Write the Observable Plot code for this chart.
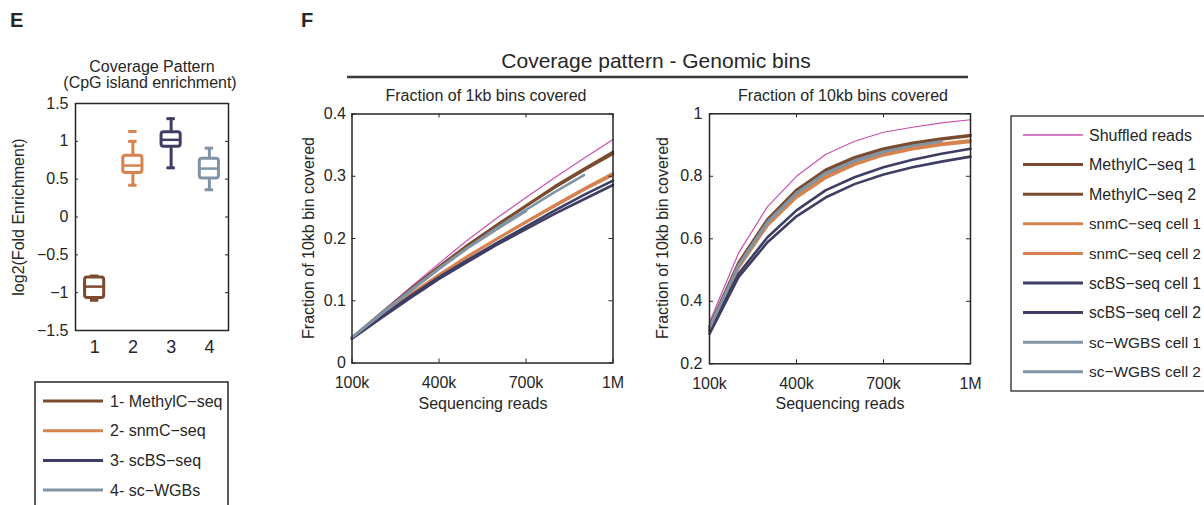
<!DOCTYPE html>
<html>
<head>
<meta charset="utf-8">
<script src="https://cdn.jsdelivr.net/npm/d3@7"></script>
<script src="https://cdn.jsdelivr.net/npm/@observablehq/plot@0.6"></script>
<style>
  html, body { margin: 0; padding: 0; background: #fff; }
  #fig { position: relative; width: 1204px; height: 505px; overflow: hidden; background: #fff;
         font-family: "Liberation Sans", Arial, Helvetica, sans-serif; }
  #fig > svg { position: absolute; overflow: visible; }
</style>
</head>
<body>
<div id="fig"></div>
<script>
// ---------- Panel E: CpG island enrichment per protocol ----------
const protocols = [1, 2, 3, 4];
const protocolNames = ["MethylC−seq", "snmC−seq", "scBS−seq", "sc−WGBs"];
const protocolColors = ["#7a4b2e", "#d6834f", "#3e3e64", "#8094a6"];
const whiskerLow  = [-1.10, 0.42, 0.65, 0.36];
const quartile1   = [-1.07, 0.58, 0.93, 0.51];
const medianValue = [-0.92, 0.68, 1.02, 0.64];
const quartile3   = [-0.80, 0.81, 1.12, 0.77];
const whiskerHigh = [-0.78, 1.00, 1.30, 0.91];
const outlierProtocol = [2];
const outlierValue = [1.13];
const enrichTicks = [-1.5, -1, -0.5, 0, 0.5, 1, 1.5];
const enrichTickLabels = ["−1.5", "−1", "−0.5", "0", "0.5", "1", "1.5"];

// ---------- Panel F: genomic bin coverage vs. sequencing depth ----------
const reads = [100000, 200000, 300000, 400000, 500000, 600000, 700000, 800000, 900000, 1000000];
const readTicks = [100000, 400000, 700000, 1000000];
const readTickLabels = ["100k", "400k", "700k", "1M"];

const seriesNames = ["Shuffled reads", "MethylC−seq 1", "MethylC−seq 2", "snmC−seq cell 1", "snmC−seq cell 2",
                     "scBS−seq cell 1", "scBS−seq cell 2", "sc−WGBS cell 1", "sc−WGBS cell 2"];
const seriesColors = ["#c850b4", "#7a4b2e", "#7a4b2e", "#d6834f", "#d6834f",
                      "#3e3e64", "#3e3e64", "#8094a6", "#8094a6"];

// fraction of 1kb bins covered
const shuffled1kb = [0.040, 0.081, 0.121, 0.160, 0.198, 0.233, 0.266, 0.298, 0.329, 0.359];
const methylc1_1kb = [0.041, 0.080, 0.118, 0.155, 0.190, 0.222, 0.253, 0.284, 0.312, 0.339];
const methylc2_1kb = [0.040, 0.079, 0.117, 0.154, 0.189, 0.221, 0.252, 0.282, 0.310, 0.336];
const snmc1_1kb = [0.040, 0.076, 0.110, 0.142, 0.172, 0.200, 0.227, 0.254, 0.280, 0.305];
const snmc2_1kb = [0.040, 0.075, 0.109, 0.141, 0.171, 0.199, 0.226, 0.252, 0.278, 0.302];
const scbs1_1kb = [0.040, 0.074, 0.107, 0.138, 0.166, 0.193, 0.219, 0.245, 0.270, 0.293];
const scbs2_1kb = [0.039, 0.072, 0.104, 0.135, 0.163, 0.190, 0.215, 0.240, 0.263, 0.286];
const scwgbs1_1kb = [0.041, 0.079, 0.116, 0.152, 0.186, 0.217, 0.246, 0.275, 0.302];
const scwgbs2_1kb = [0.041, 0.078, 0.115, 0.151, 0.185, 0.215, 0.244];

// fraction of 10kb bins covered
const shuffled10kb = [0.333, 0.554, 0.703, 0.800, 0.870, 0.912, 0.941, 0.957, 0.971, 0.981];
const methylc1_10kb = [0.320, 0.524, 0.663, 0.757, 0.821, 0.861, 0.889, 0.907, 0.921, 0.932];
const methylc2_10kb = [0.317, 0.519, 0.658, 0.752, 0.816, 0.857, 0.885, 0.904, 0.918, 0.929];
const snmc1_10kb = [0.312, 0.511, 0.648, 0.738, 0.800, 0.843, 0.872, 0.892, 0.905, 0.915];
const snmc2_10kb = [0.308, 0.506, 0.642, 0.732, 0.794, 0.837, 0.867, 0.887, 0.900, 0.910];
const scbs1_10kb = [0.305, 0.488, 0.605, 0.691, 0.755, 0.797, 0.829, 0.853, 0.872, 0.888];
const scbs2_10kb = [0.296, 0.477, 0.589, 0.672, 0.732, 0.775, 0.806, 0.829, 0.847, 0.863];
const scwgbs1_10kb = [0.316, 0.516, 0.655, 0.747, 0.811, 0.851, 0.879, 0.898, 0.912];
const scwgbs2_10kb = [0.314, 0.513, 0.652, 0.744, 0.808, 0.848, 0.876];

const bins1kbTicks = [0, 0.1, 0.2, 0.3, 0.4];
const bins1kbTickLabels = ["0", "0.1", "0.2", "0.3", "0.4"];
const bins10kbTicks = [0.2, 0.4, 0.6, 0.8, 1];
const bins10kbTickLabels = ["0.2", "0.4", "0.6", "0.8", "1"];

const FONT = '"Liberation Sans", Arial, Helvetica, sans-serif';
const INK = "#262626";
const PAGE_W = 1204;
const fig = document.getElementById("fig");

function place(svg, left, top) {
  svg.style.position = "absolute";
  svg.style.left = left + "px";
  svg.style.top = top + "px";
  svg.style.overflow = "visible";
  fig.appendChild(svg);
}

// inward tick marks on all four sides of a framed plot
function innerTicks(xTicks, yTicks, innerW, innerH, len) {
  const o = {stroke: INK, strokeWidth: 1};
  const marks = [];
  if (xTicks) marks.push(
    Plot.tickX(xTicks, {x: d => d, insetTop: innerH - len, ...o}),
    Plot.tickX(xTicks, {x: d => d, insetBottom: innerH - len, ...o}));
  if (yTicks) marks.push(
    Plot.tickY(yTicks, {y: d => d, insetRight: innerW - len, ...o}),
    Plot.tickY(yTicks, {y: d => d, insetLeft: innerW - len, ...o}));
  return marks;
}

// ---------- box plot ----------
const boxes = protocols.map((p, i) => ({
  p, lo: whiskerLow[i], q1: quartile1[i], med: medianValue[i], q3: quartile3[i], hi: whiskerHigh[i],
  color: protocolColors[i]
}));
const outliers = outlierProtocol.map((p, i) => ({p, v: outlierValue[i], color: protocolColors[p - 1]}));
const half = 0.25, cap = 0.11;
{
  const W = 240, H = 270, mL = 75, mR = 12, mT = 13, mB = 30;
  const boxPlot = Plot.plot({
    width: W, height: H, marginLeft: mL, marginRight: mR, marginTop: mT, marginBottom: mB,
    style: {fontFamily: FONT, fontSize: "16px", color: INK, background: "transparent"},
    x: {domain: [0.5, 4.5]},
    y: {domain: [-1.5, 1.5]},
    color: {type: "identity"},
    marks: [
      Plot.ruleX(boxes, {x: "p", y1: "q3", y2: "hi", stroke: "color", strokeWidth: 3}),
      Plot.ruleX(boxes, {x: "p", y1: "lo", y2: "q1", stroke: "color", strokeWidth: 3}),
      Plot.ruleY(boxes, {y: "hi", x1: d => d.p - cap, x2: d => d.p + cap, stroke: "color", strokeWidth: 3}),
      Plot.ruleY(boxes, {y: "lo", x1: d => d.p - cap, x2: d => d.p + cap, stroke: "color", strokeWidth: 3}),
      Plot.rect(boxes, {x1: d => d.p - half, x2: d => d.p + half, y1: "q1", y2: "q3",
                        fill: "white", stroke: "color", strokeWidth: 3, rx: 2.5}),
      Plot.ruleY(boxes, {y: "med", x1: d => d.p - half, x2: d => d.p + half, stroke: "color", strokeWidth: 2.5}),
      Plot.ruleY(outliers, {y: "v", x1: d => d.p - cap, x2: d => d.p + cap, stroke: "color", strokeWidth: 3}),
      ...innerTicks(null, enrichTicks, W - mL - mR, H - mT - mB, 3),
      Plot.frame({stroke: INK, strokeWidth: 1.5}),
      Plot.axisY({ticks: enrichTicks, tickFormat: d => enrichTickLabels[enrichTicks.indexOf(d)],
                  tickSize: 0, tickPadding: 7, fontSize: 16, label: null}),
      Plot.axisX({ticks: protocols, tickFormat: d => String(d),
                  tickSize: 0, tickPadding: 10, fontSize: 18, label: null})
    ]
  });
  place(boxPlot, 0, 90);
}

// ---------- coverage curves ----------
const series1kb = [shuffled1kb, methylc1_1kb, methylc2_1kb, snmc1_1kb, snmc2_1kb, scbs1_1kb, scbs2_1kb, scwgbs1_1kb, scwgbs2_1kb];
const series10kb = [shuffled10kb, methylc1_10kb, methylc2_10kb, snmc1_10kb, snmc2_10kb, scbs1_10kb, scbs2_10kb, scwgbs1_10kb, scwgbs2_10kb];

function coveragePlot(values, cfg) {
  const rows = [];
  seriesNames.forEach((name, s) => values[s].forEach((v, i) =>
    rows.push({reads: reads[i], frac: v, series: name, color: seriesColors[s], shuffled: s === 0})));
  const innerW = cfg.width - cfg.mL - cfg.mR, innerH = cfg.height - cfg.mT - cfg.mB;
  const svg = Plot.plot({
    width: cfg.width, height: cfg.height,
    marginLeft: cfg.mL, marginRight: cfg.mR, marginTop: cfg.mT, marginBottom: cfg.mB,
    style: {fontFamily: FONT, fontSize: "16px", color: INK, background: "transparent"},
    x: {domain: [100000, 1000000]},
    y: {domain: cfg.yDomain},
    color: {type: "identity"},
    marks: [
      Plot.line(rows.filter(d => d.shuffled), {x: "reads", y: "frac", z: "series", stroke: "color",
                strokeWidth: 1.2, strokeLinejoin: "round"}),
      Plot.line(rows.filter(d => !d.shuffled), {x: "reads", y: "frac", z: "series", stroke: "color",
                strokeWidth: 2.6, strokeLinejoin: "round"}),
      ...innerTicks(readTicks, cfg.yTicks, innerW, innerH, 4),
      Plot.frame({stroke: INK, strokeWidth: 1.5}),
      Plot.axisX({ticks: readTicks, tickFormat: d => readTickLabels[readTicks.indexOf(d)],
                  tickSize: 0, tickPadding: 14, fontSize: 16, label: null}),
      Plot.axisY({ticks: cfg.yTicks, tickFormat: d => cfg.yTickLabels[cfg.yTicks.indexOf(d)],
                  tickSize: 0, tickPadding: cfg.yPad, fontSize: 16, label: null})
    ]
  });
  place(svg, cfg.left, cfg.top);
}

coveragePlot(series1kb, {left: 290, top: 80, width: 340, height: 340, mL: 61.5, mR: 17.5, mT: 33.5, mB: 57.5,
  yDomain: [0, 0.4], yTicks: bins1kbTicks, yTickLabels: bins1kbTickLabels, yPad: 6});
coveragePlot(series10kb, {left: 640, top: 80, width: 350, height: 340, mL: 69, mR: 20, mT: 33.3, mB: 56.7,
  yDomain: [0.2, 1], yTicks: bins10kbTicks, yTickLabels: bins10kbTickLabels, yPad: 7});

// ---------- titles, axis titles and legends ----------
const overlay = d3.create("svg").attr("width", PAGE_W).attr("height", 505)
  .style("left", "0px").style("top", "0px").style("pointer-events", "none")
  .attr("font-family", FONT).attr("fill", INK);

function text(str, x, y, size, opts = {}) {
  const t = overlay.append("text").attr("x", x).attr("y", y).attr("font-size", size)
    .attr("text-anchor", opts.anchor || "start").text(str);
  if (opts.weight) t.attr("font-weight", opts.weight);
  if (opts.rotate) t.attr("transform", `rotate(-90 ${x} ${y})`);
  return t;
}

// panel letters
text("E", 10, 27, 20, {weight: "bold"});
text("F", 301, 27, 20, {weight: "bold"});

// panel E headings
text("Coverage Pattern", 152, 71.5, 16, {anchor: "middle"});
text("(CpG island enrichment)", 150, 88, 16, {anchor: "middle"});
text("log2(Fold Enrichment)", 24, 217, 16, {anchor: "middle", rotate: true});

// panel F headings
text("Coverage pattern - Genomic bins", 656, 68, 21, {anchor: "middle"});
overlay.append("line").attr("x1", 347).attr("x2", 968).attr("y1", 77).attr("y2", 77)
  .attr("stroke", "#3a3a3a").attr("stroke-width", 2.5);
text("Fraction of 1kb bins covered", 486, 101, 16, {anchor: "middle"});
text("Fraction of 10kb bins covered", 843, 101, 16, {anchor: "middle"});
text("Fraction of 10kb bin covered", 314, 238, 16, {anchor: "middle", rotate: true});
text("Fraction of 10kb bin covered", 668, 238, 16, {anchor: "middle", rotate: true});
text("Sequencing reads", 483, 408.5, 16, {anchor: "middle"});
text("Sequencing reads", 840, 408.5, 16, {anchor: "middle"});

// legend for panel E
overlay.append("rect").attr("x", 35).attr("y", 382).attr("width", 193).attr("height", 200)
  .attr("fill", "none").attr("stroke", INK).attr("stroke-width", 1.5);
protocols.forEach((p, i) => {
  const y = 401 + i * 29.7;
  overlay.append("line").attr("x1", 43).attr("x2", 103).attr("y1", y).attr("y2", y)
    .attr("stroke", protocolColors[i]).attr("stroke-width", 3);
  text(`${p}- ${protocolNames[i]}`, 110, y + 5.5, 16);
});

// legend for panel F (runs up to the page's right edge)
const LEGEND_TEXT_X = 1089;
overlay.append("rect").attr("x", 1011).attr("y", 116).attr("width", 240).attr("height", 275)
  .attr("fill", "none").attr("stroke", INK).attr("stroke-width", 1.3);
const legendLabels = seriesNames.map((name, i) => {
  const y = 135 + i * 29.6;
  overlay.append("line").attr("x1", 1023).attr("x2", 1083).attr("y1", y).attr("y2", y)
    .attr("stroke", seriesColors[i]).attr("stroke-width", i === 0 ? 1.3 : 3);
  return text(name, LEGEND_TEXT_X, y + 5.5, 16);
});

const ov = overlay.node();
ov.style.position = "absolute";
fig.appendChild(ov);

// shrink the type of any legend label that would run past the page edge
const room = PAGE_W - 3 - LEGEND_TEXT_X;
legendLabels.forEach(t => {
  const len = t.node().getComputedTextLength();
  if (len > room) t.attr("font-size", (16 * room / len).toFixed(2));
});
</script>
</body>
</html>
